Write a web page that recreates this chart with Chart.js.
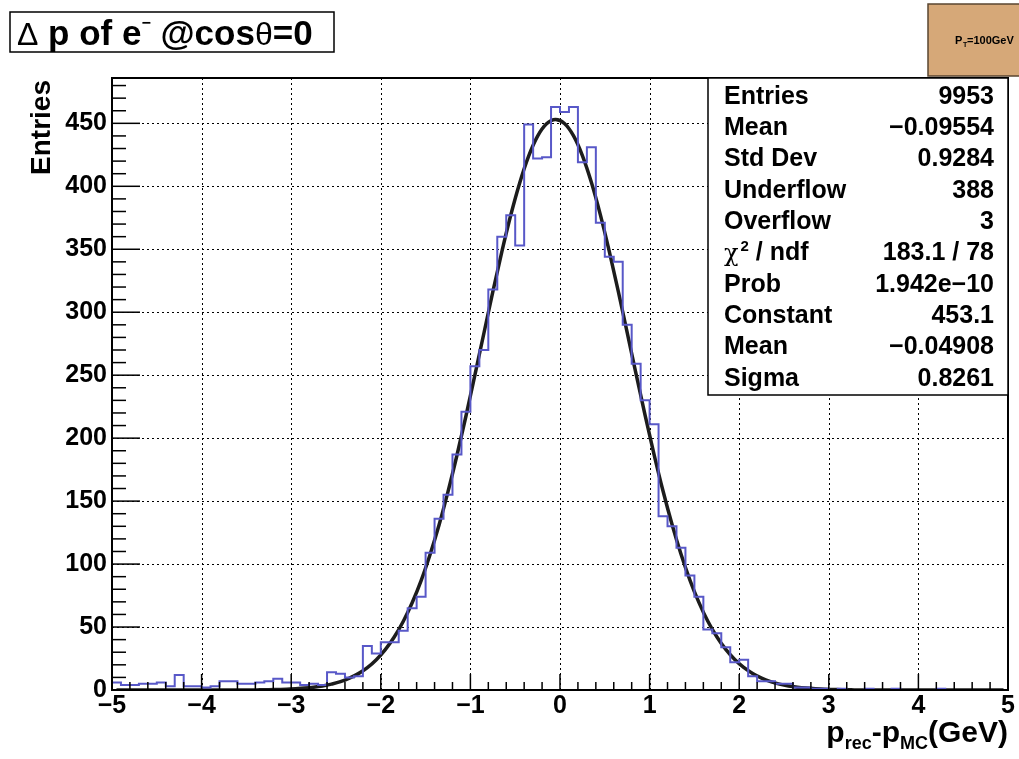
<!DOCTYPE html>
<html>
<head>
<meta charset="utf-8">
<script src="https://cdn.jsdelivr.net/npm/chart.js@4.4.1/dist/chart.umd.min.js"></script>
<style>
  html, body { margin: 0; padding: 0; background: #fff; }
</style>
</head>
<body>
<canvas id="myChart" width="1019" height="759"></canvas>
<script>
// histogram binning (100 bins from -5 to 5)
const xMin = -5;
const xMax = 5;
const binWidth = 0.1;
const yMax = 486;

// bin contents
const counts = [
  6, 4, 4, 5, 5, 6, 3, 12, 3, 3,
  2, 3, 7, 7, 5, 5, 6, 7, 9, 6,
  6, 4, 5, 4, 14, 13, 10, 11, 35, 29,
  38, 38, 47, 65, 74, 109, 136, 155, 187, 221,
  257, 270, 318, 360, 377, 353, 449, 422, 423, 463,
  459, 463, 419, 431, 371, 344, 340, 290, 259, 230,
  211, 138, 130, 113, 91, 74, 48, 45, 34, 22,
  24, 11, 7, 7, 5, 5, 2, 2, 1, 1,
  0, 1, 0, 0, 1, 0, 0, 1, 0, 0,
  0, 0, 1, 0, 0, 0, 0, 0, 0, 0
];

// fitted gaussian, sampled at bin centres
const fitY = [
  0, 0, 0, 0, 0, 0, 0, 0, 0, 0,
  0, 0, 0, 0, 0, 0, 0.1, 0.2, 0.4, 0.6,
  1.0, 1.5, 2.2, 3.2, 4.7, 6.6, 9.4, 13.0, 17.8, 24.1,
  32.1, 42.1, 54.4, 69.3, 86.9, 107.6, 131.0, 157.5, 186.4, 217.4,
  250.0, 283.1, 316.1, 347.8, 377.0, 402.7, 424.0, 439.9, 449.7, 453.1,
  449.9, 440.2, 424.4, 403.2, 377.5, 348.3, 316.7, 283.8, 250.6, 218.1,
  187.0, 158.0, 131.6, 108.0, 87.3, 69.6, 54.6, 42.3, 32.2, 24.2,
  17.9, 13.1, 9.4, 6.7, 4.7, 3.2, 2.2, 1.5, 1.0, 0.6,
  0.4, 0.2, 0.1, 0, 0, 0, 0, 0, 0, 0,
  0, 0, 0, 0, 0, 0, 0, 0, 0, 0
];

const statNames = ['Entries', 'Mean', 'Std Dev', 'Underflow', 'Overflow', 'chi2', 'Prob', 'Constant', 'Mean', 'Sigma'];
const statValues = ['9953', '\u22120.09554', '0.9284', '388', '3', '183.1 / 78', '1.942e\u221210', '453.1', '\u22120.04908', '0.8261'];

const FONT = '"Liberation Sans", Arial, Helvetica, sans-serif';

const histPoints = counts.map((c, i) => ({ x: xMin + i * binWidth, y: c }));
histPoints.push({ x: xMax, y: counts[counts.length - 1] });
const fitPoints = fitY.map((v, i) => ({ x: xMin + (i + 0.5) * binWidth, y: v }));

function fmtTick(v) {
  return String(v).replace('-', '\u2212');
}

const rootPlugin = {
  id: 'rootPlugin',
  beforeDraw(chart) {
    const c = chart.ctx;
    c.save();
    c.fillStyle = '#fff';
    c.fillRect(0, 0, chart.width, chart.height);
    c.restore();
  },
  beforeDatasetsDraw(chart) {
    const c = chart.ctx;
    const a = chart.chartArea;
    const xs = chart.scales.x, ys = chart.scales.y;
    c.save();
    c.strokeStyle = '#000';
    c.lineWidth = 1;
    c.setLineDash([2, 3]);
    xs.ticks.forEach(t => {
      if (t.value <= xMin || t.value >= xMax) return;
      const px = Math.round(xs.getPixelForValue(t.value)) + 0.5;
      c.beginPath(); c.moveTo(px, a.top); c.lineTo(px, a.bottom); c.stroke();
    });
    ys.ticks.forEach(t => {
      if (t.value <= 0) return;
      const py = Math.round(ys.getPixelForValue(t.value)) + 0.5;
      c.beginPath(); c.moveTo(a.left, py); c.lineTo(a.right, py); c.stroke();
    });
    c.restore();
  },
  afterDatasetsDraw(chart) {
    const c = chart.ctx;
    const a = chart.chartArea;
    const xs = chart.scales.x, ys = chart.scales.y;
    c.save();
    c.strokeStyle = '#000';
    c.lineWidth = 1.5;
    // ticks inside the frame
    for (let v = 0; v <= yMax; v += 10) {
      const py = ys.getPixelForValue(v);
      const len = v % 50 === 0 ? 28 : 14;
      c.beginPath(); c.moveTo(a.left, py); c.lineTo(a.left + len, py); c.stroke();
    }
    for (let k = 0; k <= 50; k++) {
      const v = xMin + k * 0.2;
      const px = xs.getPixelForValue(v);
      const len = k % 5 === 0 ? 16 : 8;
      c.beginPath(); c.moveTo(px, a.bottom); c.lineTo(px, a.bottom - len); c.stroke();
    }
    // frame
    c.lineWidth = 2;
    c.strokeRect(a.left, a.top, a.right - a.left, a.bottom - a.top);

    // stats box
    const sx0 = 708, sy0 = a.top, sx1 = a.right, sy1 = 395;
    c.fillStyle = '#fff';
    c.fillRect(sx0, sy0, sx1 - sx0, sy1 - sy0);
    c.lineWidth = 1.5;
    c.strokeRect(sx0, sy0, sx1 - sx0, sy1 - sy0);
    c.fillStyle = '#000';
    c.textBaseline = 'middle';
    const sFont = 'bold 25px ' + FONT;
    statNames.forEach((name, i) => {
      const y = 97 + i * 31.3;
      c.textAlign = 'left';
      if (name === 'chi2') {
        c.font = '24px "DejaVu Serif", serif';
        c.fillText('\u03c7', 724, y + 1);
        let w = c.measureText('\u03c7').width;
        c.font = 'bold 15px ' + FONT;
        c.fillText('2', 724 + w + 2, y - 7);
        const w2 = c.measureText('2').width;
        c.font = sFont;
        c.fillText(' / ndf', 724 + w + 2 + w2, y);
      } else {
        c.font = sFont;
        c.fillText(name, 724, y);
      }
      c.font = sFont;
      c.textAlign = 'right';
      c.fillText(statValues[i], 994, y);
    });

    // title box
    c.fillStyle = '#fff';
    c.fillRect(10, 12, 324, 40);
    c.lineWidth = 1.5;
    c.strokeRect(10, 12, 324, 40);
    c.fillStyle = '#000';
    c.textAlign = 'left';
    c.textBaseline = 'alphabetic';
    let x = 17;
    const base = 45;
    const parts = [
      ['\u0394', '32px ' + FONT, 0],
      [' p of e', 'bold 35px ' + FONT, 0],
      ['\u2212', 'bold 16px ' + FONT, -17],
      [' @cos', 'bold 35px ' + FONT, 0],
      ['\u03b8', '32px ' + FONT, 0],
      ['=0', 'bold 35px ' + FONT, 0]
    ];
    parts.forEach(p => {
      c.font = p[1];
      c.fillText(p[0], x, base + p[2]);
      x += c.measureText(p[0]).width;
    });

    // energy label box
    c.fillStyle = '#d6a878';
    c.fillRect(928, 4, 95, 72);
    c.strokeStyle = '#5a4630';
    c.lineWidth = 1.5;
    c.strokeRect(928, 4, 95, 72);
    c.fillStyle = '#000';
    c.font = 'bold 11px ' + FONT;
    c.fillText('P', 955, 44);
    c.font = 'bold 7px ' + FONT;
    c.fillText('T', 963, 47);
    c.font = 'bold 11px ' + FONT;
    c.fillText('=100GeV', 967, 44);

    // y axis title
    c.save();
    c.translate(50, a.top + 2);
    c.rotate(-Math.PI / 2);
    c.font = 'bold 28px ' + FONT;
    c.textAlign = 'right';
    c.fillText('Entries', 0, 0);
    c.restore();

    // x axis title, right aligned to the frame
    const xparts = [
      ['p', 'bold 30px ' + FONT, 0],
      ['rec', 'bold 18px ' + FONT, 7],
      ['-p', 'bold 30px ' + FONT, 0],
      ['MC', 'bold 18px ' + FONT, 7],
      ['(GeV)', 'bold 30px ' + FONT, 0]
    ];
    let total = 0;
    xparts.forEach(p => { c.font = p[1]; total += c.measureText(p[0]).width; });
    x = a.right - total;
    xparts.forEach(p => {
      c.font = p[1];
      c.fillText(p[0], x, 742 + p[2]);
      x += c.measureText(p[0]).width;
    });
    c.restore();
  }
};

const chart = new Chart(document.getElementById('myChart'), {
  type: 'line',
  data: {
    datasets: [
      {
        label: 'hist',
        data: histPoints,
        stepped: 'before',
        borderColor: '#5858c8',
        borderWidth: 2,
        pointRadius: 0,
        fill: false
      },
      {
        label: 'fit',
        data: fitPoints,
        borderColor: '#1c1c1c',
        borderWidth: 3.5,
        pointRadius: 0,
        cubicInterpolationMode: 'monotone',
        fill: false
      }
    ]
  },
  options: {
    responsive: false,
    animation: false,
    layout: { padding: { top: 78, right: 11, left: 0, bottom: 0 } },
    plugins: { legend: { display: false }, tooltip: { enabled: false } },
    scales: {
      x: {
        type: 'linear',
        min: xMin,
        max: xMax,
        grid: { display: false, drawTicks: false },
        border: { display: false },
        ticks: {
          stepSize: 1,
          includeBounds: false,
          autoSkip: false,
          maxRotation: 0,
          padding: 1,
          color: '#000',
          font: { family: FONT, size: 25, weight: 'bold' },
          callback: v => fmtTick(v)
        },
        afterFit: s => { s.height = 69; }
      },
      y: {
        min: 0,
        max: yMax,
        grid: { display: false, drawTicks: false },
        border: { display: false },
        ticks: {
          stepSize: 50,
          includeBounds: false,
          padding: 5,
          color: '#000',
          font: { family: FONT, size: 25, weight: 'bold' },
          callback: v => fmtTick(v)
        },
        afterFit: s => { s.width = 112; }
      }
    }
  },
  plugins: [rootPlugin]
});
</script>
</body>
</html>
